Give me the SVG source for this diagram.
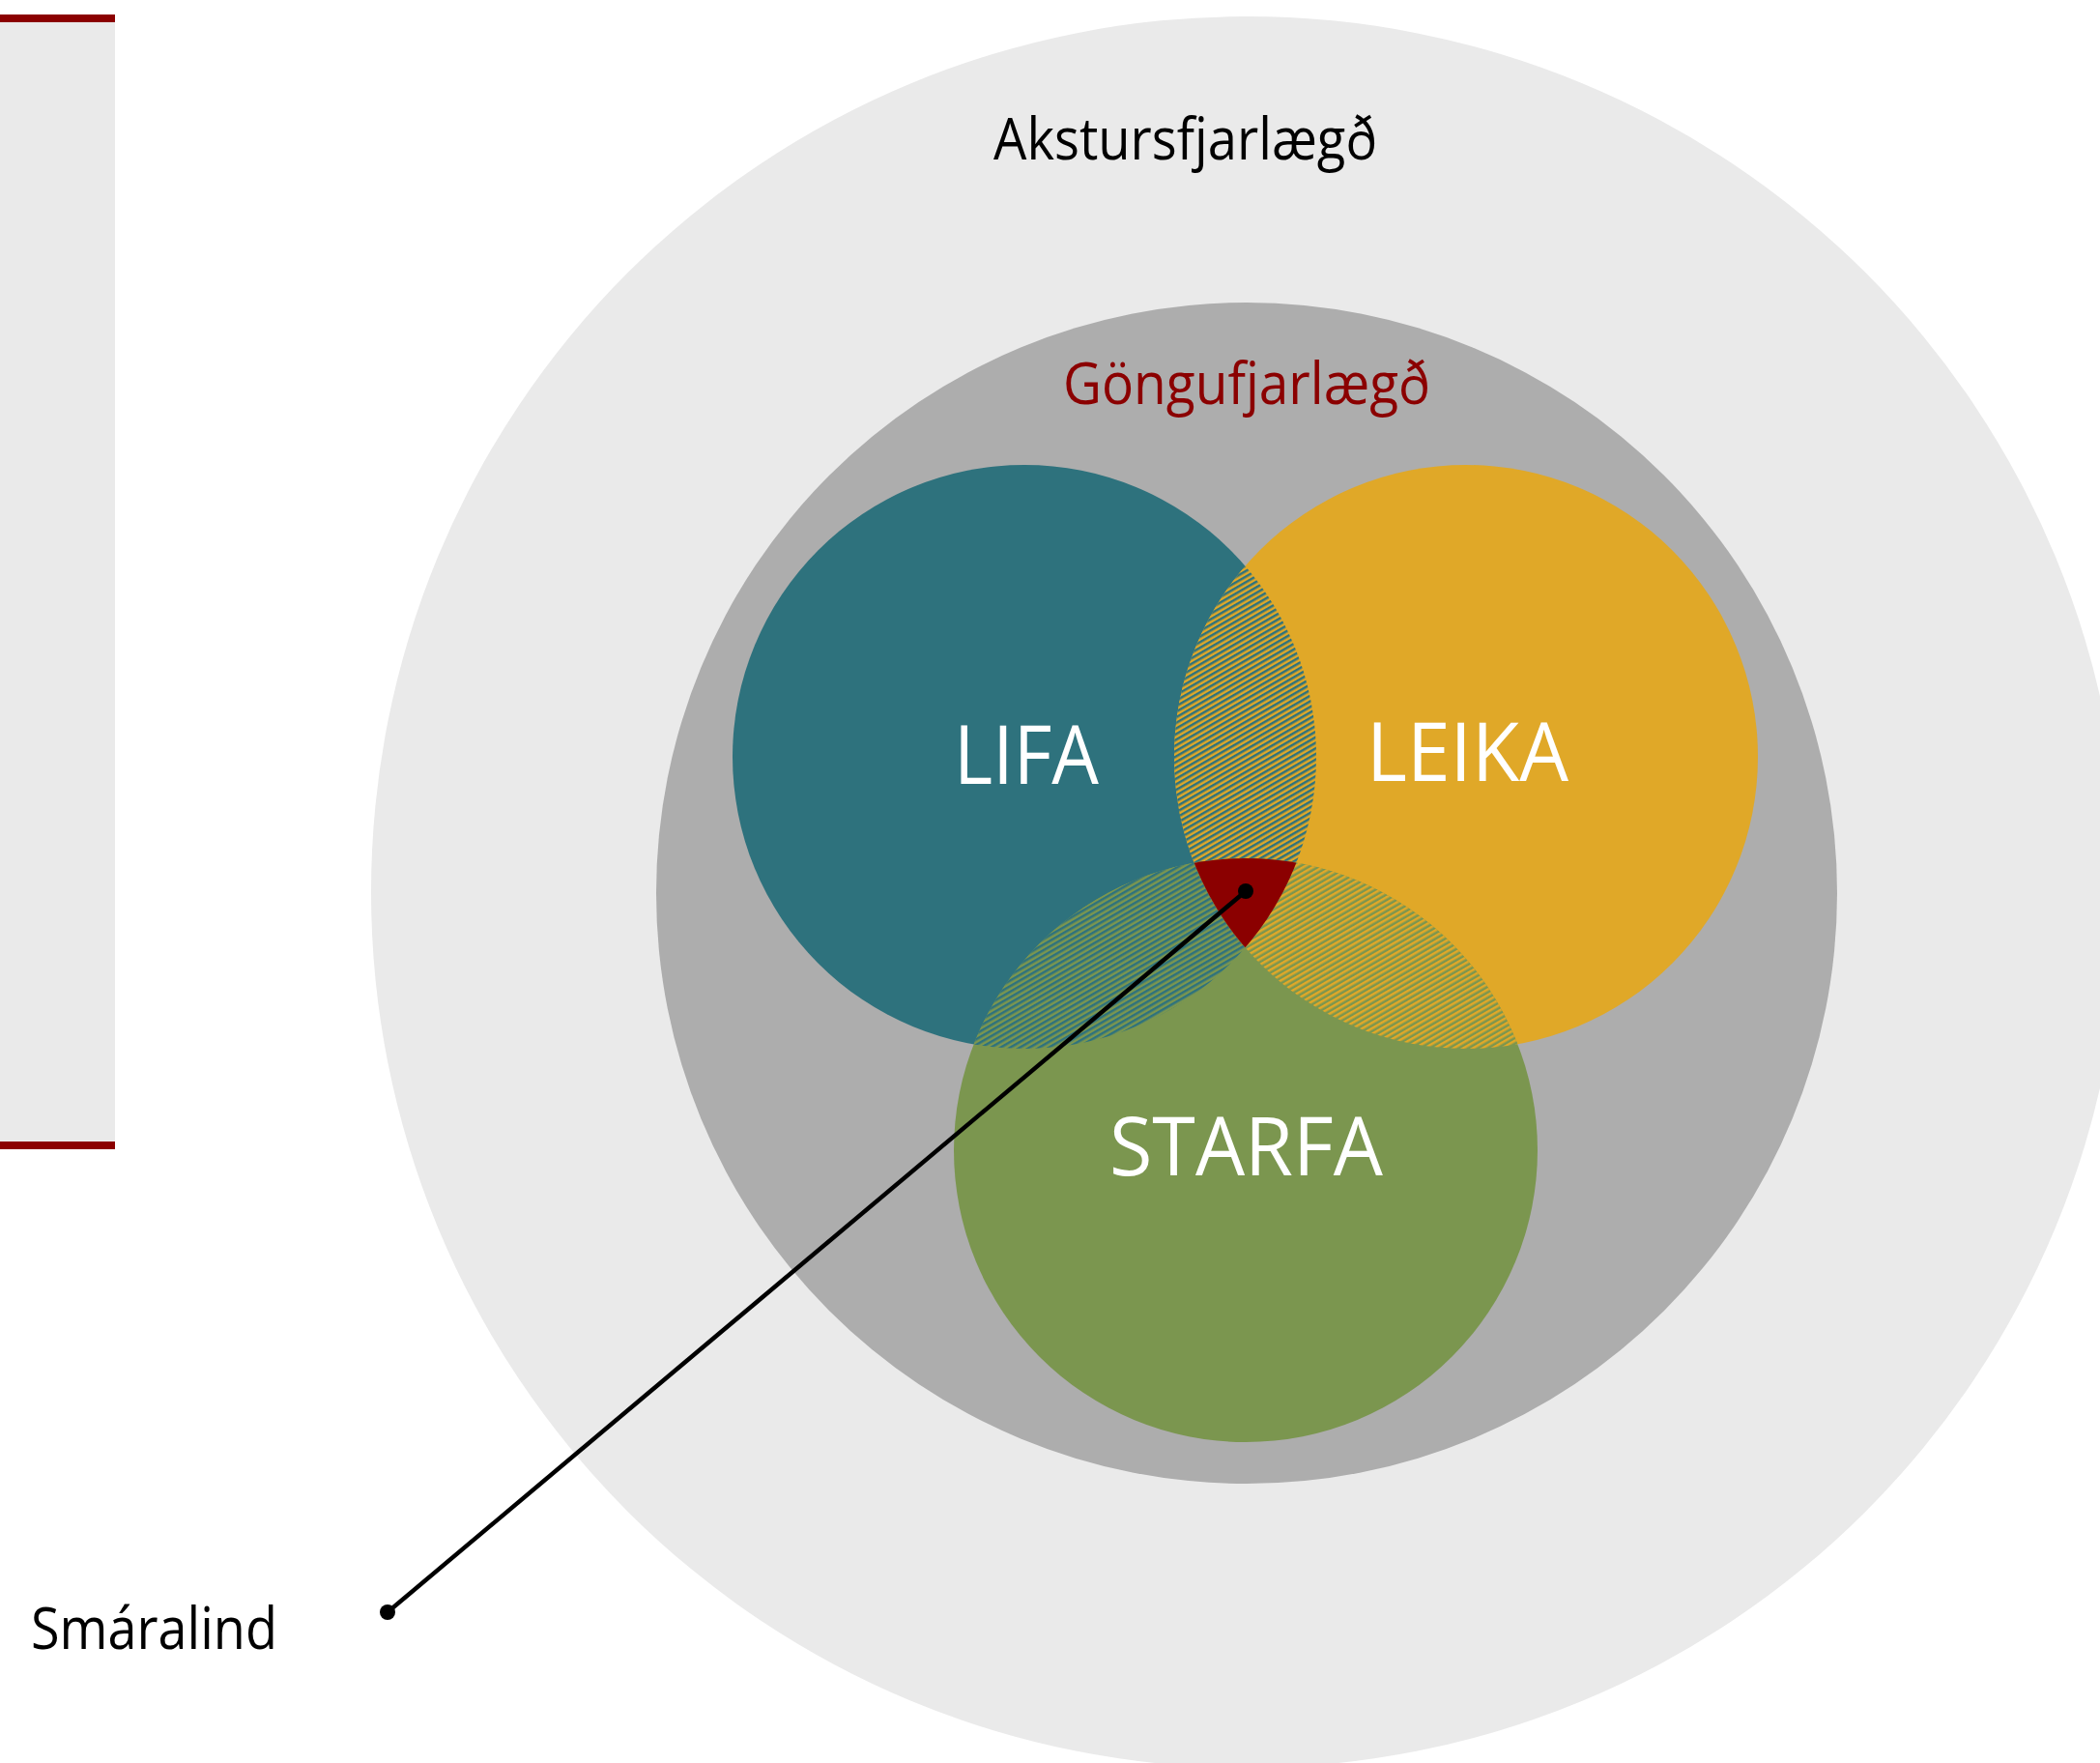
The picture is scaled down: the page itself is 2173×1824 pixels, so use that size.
<svg xmlns="http://www.w3.org/2000/svg" width="2173" height="1824" viewBox="0 0 2173 1824">
<style>
.lbl{font-family:"Open Sans","Noto Sans","Liberation Sans",sans-serif;}
.big{font-size:85px;fill:#FFFFFF;}
.mid{font-size:60px;}
</style>
<defs>
<pattern id="pTY" width="5" height="5" patternUnits="userSpaceOnUse" patternTransform="rotate(-30)"><rect width="5" height="5" fill="#E0A828"/><rect width="5" height="2.5" fill="#2E727D"/></pattern>
<pattern id="pTG" width="5" height="5" patternUnits="userSpaceOnUse" patternTransform="rotate(-30)"><rect width="5" height="5" fill="#7B964F"/><rect width="5" height="2.5" fill="#2E727D"/></pattern>
<pattern id="pYG" width="5" height="5" patternUnits="userSpaceOnUse" patternTransform="rotate(-30)"><rect width="5" height="5" fill="#7B964F"/><rect width="5" height="2.5" fill="#E0A828"/></pattern>
<clipPath id="cLifa"><circle cx="1060" cy="783" r="302"/></clipPath>
<clipPath id="cLeika"><circle cx="1517" cy="783" r="302"/></clipPath>
</defs>
<g id="sidebar">
<rect x="0" y="19" width="119" height="1166" fill="#EAEAEA"/>
<rect x="0" y="15" width="119" height="8" fill="#8B0000"/>
<rect x="0" y="1181" width="119" height="8" fill="#8B0000"/>
</g>
<g id="akstur">
<circle cx="1290" cy="923" r="906" fill="#EAEAEA"/>
<text class="lbl mid" x="1028" y="165" textLength="397" lengthAdjust="spacingAndGlyphs" fill="#000000">Akstursfjarlægð</text>
</g>
<g id="ganga">
<circle cx="1290" cy="924" r="611" fill="#ADADAD"/>
<text class="lbl mid" x="1100" y="418" textLength="380" lengthAdjust="spacingAndGlyphs" fill="#8B0000">Göngufjarlægð</text>
</g>
<g id="lifa">
<circle cx="1060" cy="783" r="302" fill="#2E727D"/>
</g>
<g id="leika">
<circle cx="1517" cy="783" r="302" fill="#E0A828"/>
</g>
<g id="starfa">
<circle cx="1289" cy="1190" r="302" fill="#7B964F"/>
</g>
<g id="overlaps">
<circle cx="1517" cy="783" r="302" fill="url(#pTY)" clip-path="url(#cLifa)"/>
<circle cx="1289" cy="1190" r="302" fill="url(#pTG)" clip-path="url(#cLifa)"/>
<circle cx="1289" cy="1190" r="302" fill="url(#pYG)" clip-path="url(#cLeika)"/>
<g clip-path="url(#cLeika)"><circle cx="1289" cy="1190" r="302" fill="#8B0000" clip-path="url(#cLifa)"/></g>
</g>
<g id="labels">
<text class="lbl big" x="987" y="811" textLength="150" lengthAdjust="spacingAndGlyphs">LIFA</text>
<text class="lbl big" x="1414" y="808" textLength="209" lengthAdjust="spacingAndGlyphs">LEIKA</text>
<text class="lbl big" x="1148" y="1216" textLength="283" lengthAdjust="spacingAndGlyphs">STARFA</text>
</g>
<g id="smaralind">
<text class="lbl mid" x="32" y="1706" textLength="255" lengthAdjust="spacingAndGlyphs" fill="#000000">Smáralind</text>
</g>
<g id="connectors">
<line x1="401" y1="1668" x2="1289" y2="922" stroke="#000000" stroke-width="4.5"/>
<circle cx="401" cy="1668" r="8" fill="#000000"/>
<circle cx="1289" cy="922" r="8" fill="#000000"/>
</g>
</svg>
